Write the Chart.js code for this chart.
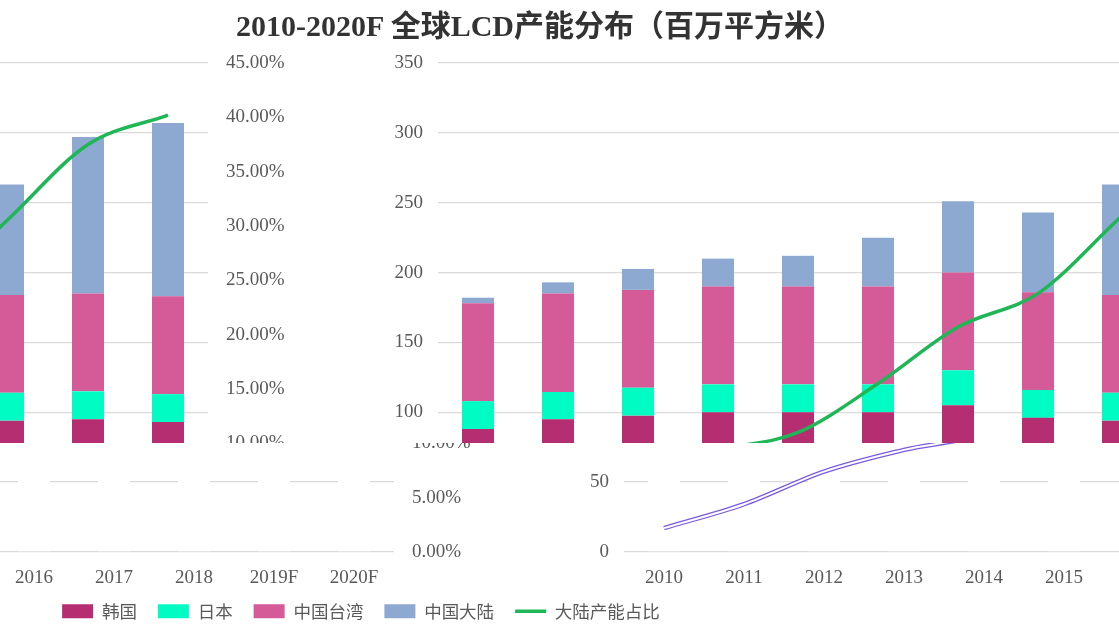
<!DOCTYPE html>
<html><head><meta charset="utf-8">
<script src="https://cdn.jsdelivr.net/npm/chart.js@4/dist/chart.umd.min.js"></script>
<style>
html,body{margin:0;padding:0;background:#fff;}
#stage{position:relative;width:1119px;height:633px;overflow:hidden;background:#fff;}
.strip{position:absolute;left:0;width:1119px;overflow:hidden;}
.cv{position:absolute;width:1110px;height:633px;}
#title{position:absolute;left:0;width:1080px;top:1px;text-align:center;font:bold 30px 'Liberation Serif','Noto Sans CJK SC',serif;color:#333;white-space:nowrap;}
</style></head><body>
<div id="stage">
 <div class="strip" style="top:0;height:443px">
   <div class="cv" style="left:388px;top:0"><canvas id="t1" width="1110" height="633"></canvas></div>
   <div class="cv" style="left:-722px;top:0"><canvas id="t2" width="1110" height="633"></canvas></div>
 </div>
 <div class="strip" style="top:443px;height:152px">
   <div class="cv" style="left:574px;top:-443px"><canvas id="b1" width="1110" height="633"></canvas></div>
   <div class="cv" style="left:-536px;top:-443px"><canvas id="b2" width="1110" height="633"></canvas></div>
 </div>
 <div class="strip" style="top:595px;height:38px">
   <div style="position:absolute;left:0;top:-65px;width:722px;height:100px"><canvas id="lg" width="722" height="100"></canvas></div>
 </div>
 <div id="title">2010-2020F 全球LCD产能分布（百万平方米）</div>
</div>
<script>
const categories = ['2010','2011','2012','2013','2014','2015','2016','2017','2018','2019F','2020F'];
const korea    = [88, 95, 97.6, 100, 100, 100, 105, 96, 94, 95, 93];
const japan    = [20, 19.5, 20, 20, 20, 20, 25, 20, 20, 20, 20];
const taiwan   = [70, 70.5, 70, 70, 70, 70, 70, 70, 70, 70, 70];
const mainland = [4, 8, 15, 20, 22, 35, 51, 57, 79, 112, 124];
const mainlandShare = [2.2, 4.4, 7.4, 9.4, 11.0, 15.5, 20.7, 23.8, 30.6, 37.5, 40.2];
const seriesNames = ['韩国','日本','中国台湾','中国大陆','大陆产能占比'];
const leftAxisMax = 350, leftAxisStep = 50;
const rightAxisMax = 45, rightAxisStep = 5;

const colors = ['#b52e72','#00fcc3','#d55b98','#8ea9d1','#1fb655'];
const serif = "'Liberation Serif','Times New Roman',serif";
const tickColor = '#595959';
const gridColor = '#d9d9d9';

function makeDatasets(mode){
  const barData = [korea, japan, taiwan, mainland];
  const ds = barData.map((d,i)=>({
    type:'bar', label:seriesNames[i], data:d, order:1,
    backgroundColor: mode==='bottom' ? '#ffffff' : colors[i],
    borderWidth:0, yAxisID:'y', stack:'s', pointStyle:'rect',
    categoryPercentage:1, barPercentage:0.4
  }));
  if (mode==='bottom'){
    ds.push({type:'line', label:seriesNames[4], data:mainlandShare, yAxisID:'y1', order:0,
      borderColor:'#7a5ae0', borderWidth:4.5, pointRadius:0, cubicInterpolationMode:'monotone', fill:false});
    ds.push({type:'line', label:'', data:mainlandShare, yAxisID:'y1', order:-1,
      borderColor:'#ffffff', borderWidth:2, pointRadius:0, cubicInterpolationMode:'monotone', fill:false});
  } else {
    ds.push({type:'line', label:seriesNames[4], data:mainlandShare, yAxisID:'y1', order:0,
      borderColor:colors[4], backgroundColor:colors[4], borderWidth:3.5, pointRadius:0, pointStyle:'line',
      cubicInterpolationMode:'monotone', fill:false});
  }
  return ds;
}

function mainConfig(mode){
  return {
    data:{labels:categories, datasets:makeDatasets(mode)},
    options:{
      responsive:false, animation:false,
      layout:{padding:{left:0,right:100,top:63,bottom:41}},
      plugins:{legend:{display:false}, tooltip:{enabled:false}, title:{display:false}},
      scales:{
        x:{stacked:true, grid:{display:false, drawTicks:false}, border:{display:false},
           ticks:{color:tickColor, font:{family:serif,size:19}, padding:15, maxRotation:0, autoSkip:false},
           afterFit:s=>{s.height=40;}},
        y:{stacked:true, position:'left', min:0, max:leftAxisMax,
           ticks:{stepSize:leftAxisStep, color:tickColor, font:{family:serif,size:19}, padding:15},
           grid:{color:gridColor, lineWidth:1.3, drawTicks:false}, border:{display:false},
           afterFit:s=>{s.width=50;}},
        y1:{position:'right', min:0, max:rightAxisMax,
           ticks:{stepSize:rightAxisStep, color:tickColor, font:{family:serif,size:19}, padding:18,
             callback:v=>v.toFixed(2)+'%'},
           grid:{display:false, drawTicks:false}, border:{display:false},
           afterFit:s=>{s.width=80;}}
      }
    }
  };
}

new Chart(document.getElementById('t1'), mainConfig('top'));
new Chart(document.getElementById('t2'), mainConfig('top'));
new Chart(document.getElementById('b1'), mainConfig('bottom'));
new Chart(document.getElementById('b2'), mainConfig('bottom'));

// legend
const lgCfg = mainConfig('top');
lgCfg.options.layout.padding = 0;
lgCfg.options.scales.x.display = false;
lgCfg.options.scales.y.display = false;
lgCfg.options.scales.y1.display = false;
lgCfg.options.plugins.legend = {
  display:true, position:'bottom', align:'center',
  labels:{usePointStyle:true, pointStyleWidth:31, boxHeight:14, padding:21,
    color:'#595959', font:{family:"'Noto Sans CJK SC','Noto Sans',sans-serif", size:17.5},
    sort:(a,b)=>a.datasetIndex-b.datasetIndex}
};
new Chart(document.getElementById('lg'), lgCfg);
</script>
</body></html>
